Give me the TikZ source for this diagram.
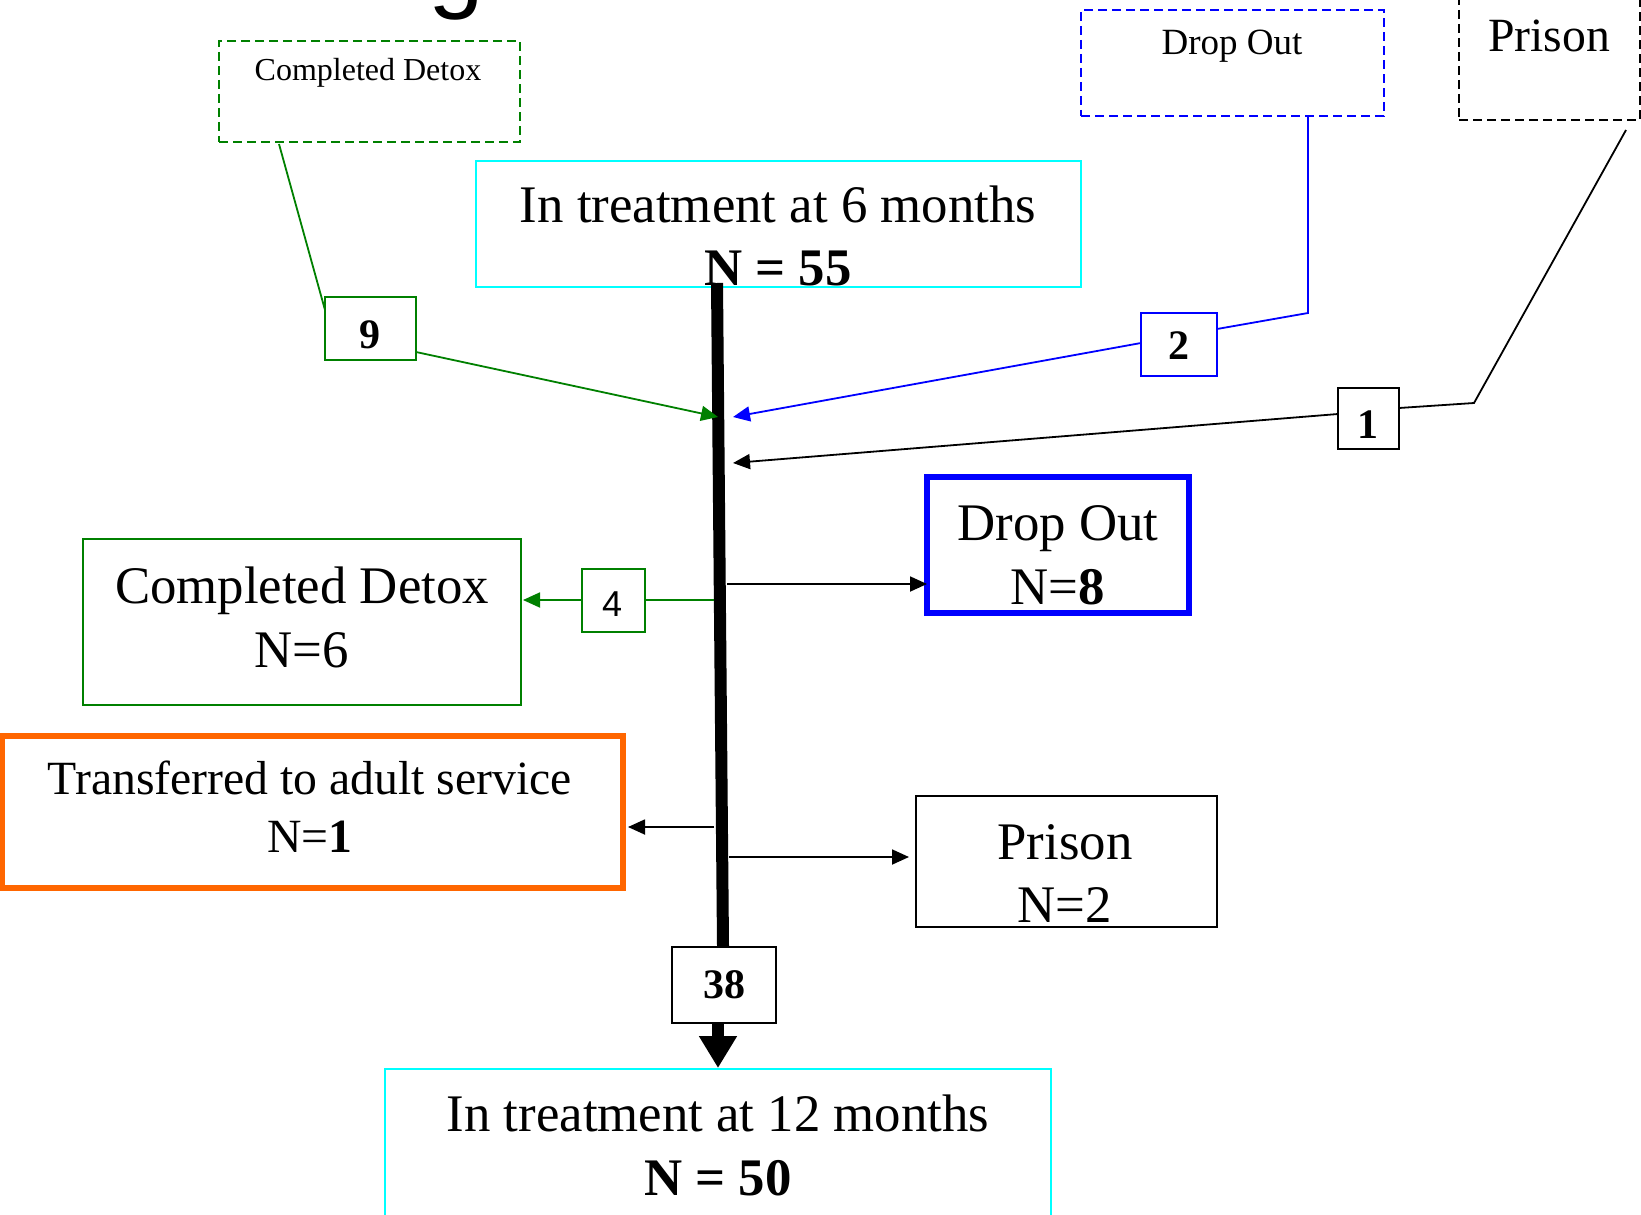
\documentclass[tikz,border=0pt]{standalone}
\usepackage{fontspec}
\setmainfont{Liberation Serif}
\newfontfamily\sansf{Liberation Sans}
\usetikzlibrary{arrows.meta,fit}
\definecolor{dgreen}{RGB}{0,128,0}
\definecolor{tcyan}{RGB}{0,255,255}
\definecolor{orng}{RGB}{255,102,0}
\definecolor{pblue}{RGB}{0,0,255}
\begin{document}
\begin{tikzpicture}[x=0.5pt,y=-0.5pt,
  frame/.style={rectangle, inner sep=0pt, draw, line width=0.9pt},
  dashbox/.style={frame, dash pattern=on 4.5pt off 2.5pt, line width=1.3pt},
  big/.style={font=\fontsize{26.4pt}{31pt}\selectfont, anchor=base, inner sep=0pt},
  mid/.style={font=\fontsize{23.85pt}{28pt}\selectfont, anchor=base, inner sep=0pt},
  num/.style={font=\fontsize{21pt}{25pt}\selectfont\bfseries, anchor=base, inner sep=0pt},
  link/.style={line width=0.9pt},
  tip/.style={-{Triangle[length=8.5pt,width=7.5pt]}}]
\useasboundingbox (0,0) rectangle (1641,1214);
\clip (0,0) rectangle (1641,1214);
\fill[white] (0,0) rectangle (1641,1214);

% title fragment
\node[font=\sansf\fontsize{50pt}{60pt}\selectfont, anchor=base west, inner sep=0pt] (title) at (428,0) {g};

% top dashed boxes
\node[dashbox, draw=dgreen, fit={(219,41)(520,142)}] (cdTop) {};
\node[font=\fontsize{16pt}{19pt}\selectfont, anchor=base, inner sep=0pt] (cdTopT) at (368,81) {Completed Detox};
\node[dashbox, draw=pblue, fit={(1081,10)(1384,116)}] (doTop) {};
\node[font=\fontsize{18.5pt}{22pt}\selectfont, anchor=base, inner sep=0pt] (doTopT) at (1232,55) {Drop Out};
\node[dashbox, draw=black, fit={(1459,-20)(1640,120)}] (prTop) {};
\node[mid] (prTopT) at (1549,52) {Prison};

% main boxes
\node[frame, draw=tcyan, fit={(476,161)(1081,287)}] (t6) {};
\node[big] (t6a) at (778,222) {In treatment at 6 months};
\node[big, font=\fontsize{26.4pt}{31pt}\selectfont\bfseries] (t6b) at (778,285) {N = 55};

\node[frame, draw=pblue, line width=2.6pt, fit={(927,477)(1189,613)}] (do8) {};
\node[big] (do8a) at (1058,540) {Drop Out};
\node[big] (do8b) at (1058,604) {N=\textbf{8}};

\node[frame, draw=dgreen, fit={(83,539)(521,705)}] (cd6) {};
\node[big] (cd6a) at (302,603) {Completed Detox};
\node[big] (cd6b) at (302,667) {N=6};

\node[frame, draw=orng, line width=2.6pt, fit={(2,736)(623,888)}] (tr) {};
\node[mid] (tra) at (310,794) {Transferred to adult service};
\node[mid] (trb) at (310,852) {N=\textbf{1}};

\node[frame, draw=black, fit={(916,796)(1217,927)}] (pr2) {};
\node[big] (pr2a) at (1065,859) {Prison};
\node[big] (pr2b) at (1065,922) {N=2};

\node[frame, draw=tcyan, fit={(385,1069)(1051,1260)}] (t12) {};
\node[big] (t12a) at (718,1131) {In treatment at 12 months};
\node[big, font=\fontsize{26.4pt}{31pt}\selectfont\bfseries] (t12b) at (718,1195) {N = 50};

% number boxes
\node[frame, draw=dgreen, fit={(325,297)(416,360)}] (b9) {};
\node[num] (b9t) at (370,348) {9};
\node[frame, draw=pblue, fit={(1141,313)(1217,376)}] (b2) {};
\node[num] (b2t) at (1179,359) {2};
\node[frame, draw=black, fit={(1338,388)(1399,449)}] (b1) {};
\node[num] (b1t) at (1368,438) {1};
\node[frame, draw=dgreen, fit={(582,569)(645,632)}] (b4) {};
\node[font=\sansf\fontsize{18pt}{21pt}\selectfont, anchor=base, inner sep=0pt] (b4t) at (612,616) {4};
\node[frame, draw=black, fit={(672,947)(776,1023)}] (b38) {};
\node[num] (b38t) at (724,998) {38};

% main flow line
\coordinate (flowTop) at (717,283);
\coordinate (flowBot) at (723,947);
\draw[line width=6pt] (flowTop) -- (b38.north -| flowBot);
\draw[line width=6pt, -{Triangle[length=16pt,width=18pt]}] (718,1023) -- (718,1068);

% incoming connectors
\coordinate (inG) at (718,417);
\coordinate (inB) at (733,417);
\coordinate (inK) at (733,463);
\draw[link, draw=dgreen] (279,144) -- (325,310);
\draw[link, draw=dgreen, tip] (416,352) -- (inG);
\draw[link, draw=pblue] (1308,116) -- (1308,313) -- (1217,329);
\draw[link, draw=pblue, tip] (1141,343) -- (inB);
\draw[link] (1626,130) -- (1474,403) -- (1399,408);
\draw[link, tip] (1338,414) -- (inK);

% outgoing connectors
\draw[link, draw=dgreen] (714,600) -- (645,600);
\draw[link, draw=dgreen, tip] (582,600) -- (523,600);
\draw[link, tip] (727,584) -- (927,584);
\draw[link, tip] (714,827) -- (628,827);
\draw[link, tip] (729,857) -- (909,857);
\end{tikzpicture}
\end{document}
